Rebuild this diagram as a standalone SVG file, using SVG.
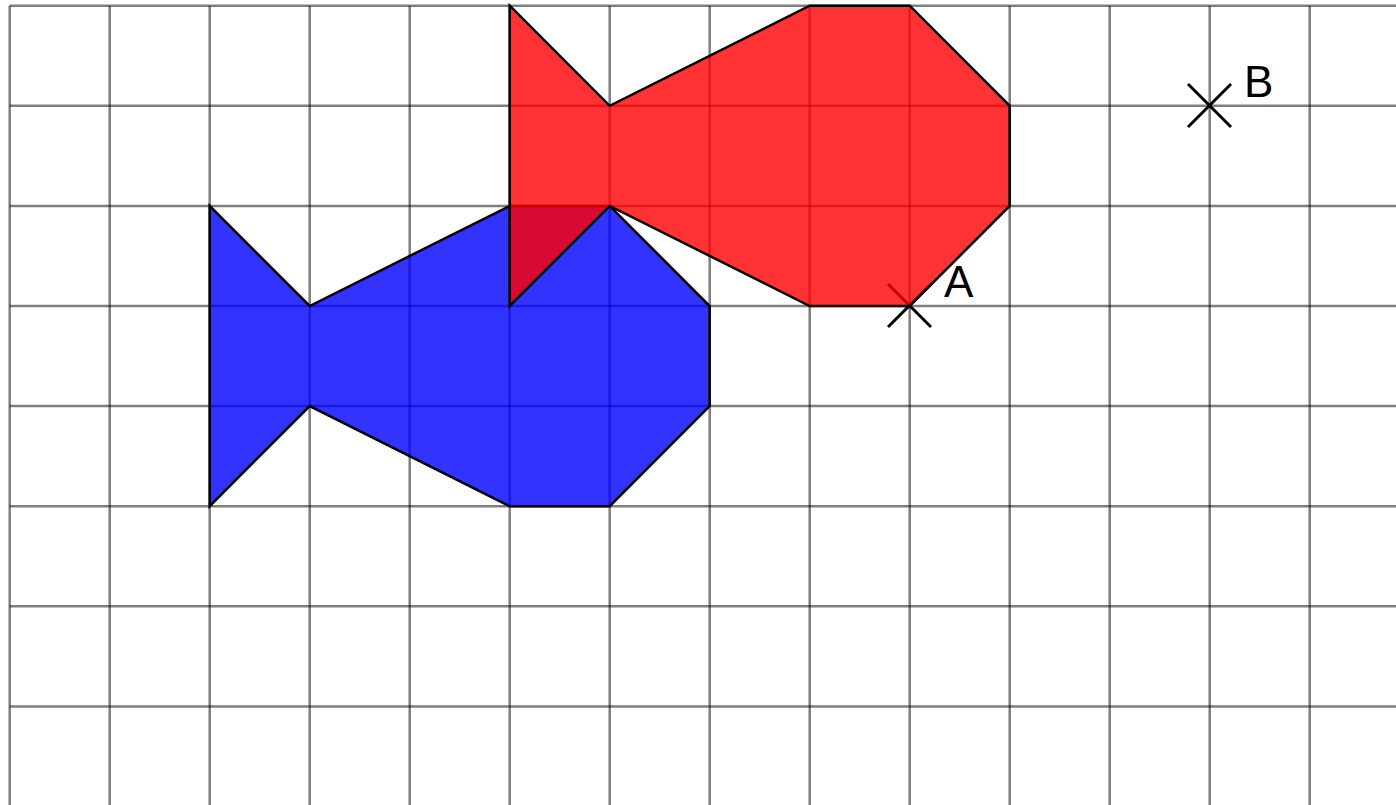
<svg xmlns="http://www.w3.org/2000/svg" width="1396" height="805" viewBox="0 0 1396 805">
<style>
.g line{stroke:#000;stroke-opacity:0.5;stroke-width:2.5}
.fish{stroke:#000;stroke-width:2.5;stroke-linejoin:miter}
.x{stroke:#000;stroke-width:3}
.lbl{font-family:"Liberation Sans",Arial,sans-serif;font-size:44px;fill:#000}
</style>
<rect width="1396" height="805" fill="#fff"/>
<g class="g" id="grid">
<line x1="9.7" y1="5.7" x2="9.7" y2="805"/>
<line x1="109.7" y1="5.7" x2="109.7" y2="805"/>
<line x1="209.7" y1="5.7" x2="209.7" y2="805"/>
<line x1="309.7" y1="5.7" x2="309.7" y2="805"/>
<line x1="409.7" y1="5.7" x2="409.7" y2="805"/>
<line x1="509.7" y1="5.7" x2="509.7" y2="805"/>
<line x1="609.7" y1="5.7" x2="609.7" y2="805"/>
<line x1="709.7" y1="5.7" x2="709.7" y2="805"/>
<line x1="809.7" y1="5.7" x2="809.7" y2="805"/>
<line x1="909.7" y1="5.7" x2="909.7" y2="805"/>
<line x1="1009.7" y1="5.7" x2="1009.7" y2="805"/>
<line x1="1109.7" y1="5.7" x2="1109.7" y2="805"/>
<line x1="1209.7" y1="5.7" x2="1209.7" y2="805"/>
<line x1="1309.7" y1="5.7" x2="1309.7" y2="805"/>
<line x1="9.7" y1="5.7" x2="1396" y2="5.7"/>
<line x1="9.7" y1="105.8" x2="1396" y2="105.8"/>
<line x1="9.7" y1="205.9" x2="1396" y2="205.9"/>
<line x1="9.7" y1="306" x2="1396" y2="306"/>
<line x1="9.7" y1="406.1" x2="1396" y2="406.1"/>
<line x1="9.7" y1="506.2" x2="1396" y2="506.2"/>
<line x1="9.7" y1="606.3" x2="1396" y2="606.3"/>
<line x1="9.7" y1="706.4" x2="1396" y2="706.4"/>
</g>
<g id="pointA">
<line class="x" x1="888" y1="284" x2="931" y2="327"/>
<line class="x" x1="888" y1="327" x2="931" y2="284"/>
<text class="lbl" x="944" y="297">A</text>
</g>
<g id="pointB">
<line class="x" x1="1188" y1="84" x2="1231" y2="127"/>
<line class="x" x1="1188" y1="127" x2="1231" y2="84"/>
<text class="lbl" x="1244" y="97">B</text>
</g>
<g id="blueFish">
<polygon class="fish" fill="#0000ff" fill-opacity="0.8" points="209.7,205.9 309.7,306 509.7,205.9 609.7,205.9 709.7,306 709.7,406.1 609.7,506.2 509.7,506.2 309.7,406.1 209.7,506.2"/>
</g>
<g id="redFish">
<polygon class="fish" fill="#ff0000" fill-opacity="0.8" points="509.7,5.7 609.7,105.8 809.7,5.7 909.7,5.7 1009.7,105.8 1009.7,205.9 909.7,306 809.7,306 609.7,205.9 509.7,306"/>
</g>
<g id="connectors"/>
</svg>
